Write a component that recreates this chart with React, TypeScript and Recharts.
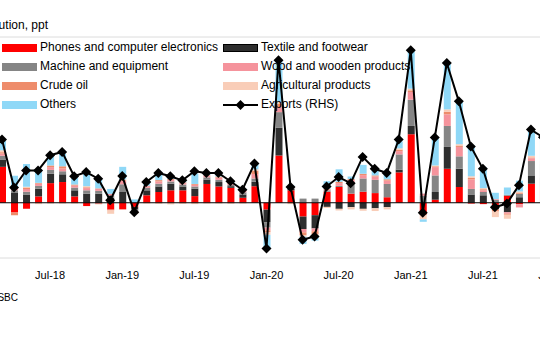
import {
  ComposedChart,
  Bar,
  Line,
  XAxis,
  YAxis,
  CartesianGrid,
  ReferenceLine,
} from "recharts";

// monthly contributions to export growth, ppt (Mar-18 .. Jan-22)
const months = [
  "Mar-18", "Apr-18", "May-18", "Jun-18", "Jul-18", "Aug-18", "Sep-18", "Oct-18", "Nov-18", "Dec-18",
  "Jan-19", "Feb-19", "Mar-19", "Apr-19", "May-19", "Jun-19", "Jul-19", "Aug-19", "Sep-19", "Oct-19", "Nov-19", "Dec-19",
  "Jan-20", "Feb-20", "Mar-20", "Apr-20", "May-20", "Jun-20", "Jul-20", "Aug-20", "Sep-20", "Oct-20", "Nov-20", "Dec-20",
  "Jan-21", "Feb-21", "Mar-21", "Apr-21", "May-21", "Jun-21", "Jul-21", "Aug-21", "Sep-21", "Oct-21", "Nov-21", "Dec-21",
  "Jan-22",
];

const phones = [
  13, -3.5, -2.2, 2.3, 7.1, 7.5, 2.3, -1.2, -0.3, -2.5,
  -2.4, -1.5, 2.7, 3.9, 4.5, 4.5, 2.4, 6.8, 5.9, 5.4, 1.8, 6,
  -2.5, 17.1, 4.5, -5, -4.5, 4, 5.7, 3.3, 4, 3.5, 2, 11,
  24.8, -4, 1.1, 12.3, 5.7, -0.3, -0.5, -0.8, 2.5, -0.5, 6.9, 6,
  null,
];
const textile = [
  2.5, 3.5, 3, 2.8, 3.4, 2.8, 2.2, 3.3, 3.3, 1.8,
  3.9, -1, 1.8, 2, 2.4, 1.4, 2.7, 1.6, 1.6, 0.6, 1.2, 1.6,
  -4.5, 10, 0.5, -4.5, -4.8, -1.5, -2.2, -1.6, -2.2, -2, -1.6, 1,
  3, 0, 2.8, 7.9, 6.6, 3, 2.7, -1.6, -3.4, 2, 3, 3,
  null,
];
const machine = [
  1.5, 1, 1, 1, 1.4, 1.1, 1, 1.2, 1, 0.8,
  2.8, -0.5, 0.9, 1, 0.8, 0.7, 0.8, 0.8, 0.8, 0.5, 0.8, 1.2,
  -2, 5.7, 0.3, 1.5, 1.5, 0.5, 0.4, 4, 4.8, 4.8, 4.8, 5.5,
  9.5, 2.5, 6, 7.6, 4.5, 2, 1.2, 1, 0.4, 1.2, 5.2, 5,
  null,
];
const wood = [
  0.8, 0.8, 1, 0.8, 1, 1, 0.7, 0.8, 0.7, 0.6,
  1.2, -0.3, 0.6, 0.8, 0.6, 0.5, 0.6, 0.6, 0.8, 0.5, 0.5, 1.6,
  -1, 1.8, 0.3, -1.2, -1, 0.3, 1, 1, 1.2, 1.2, 1.2, 1.2,
  2.8, 0.8, 3, 4.2, 3.4, 3.4, 0.6, 0.3, -0.6, -1.2, 1, 1,
  null,
];
const crudeOil = [
  0.5, -1, 0.3, 0.3, 0.6, 0.8, 0.4, 0.3, 0.2, -0.3,
  0.3, -0.3, 0.2, 0.5, 0.3, 0.3, 0.3, 0.2, 0.4, 0.2, 0.2, 1.2,
  -0.6, 1.2, 0.2, -1, -1, 0.2, 0.5, 0.3, 0.5, 0.4, 0.5, 0.5,
  0.6, -0.5, 0.3, 0.9, 0.5, 0.6, 0.4, -0.8, -0.3, 0.3, 0.3, 0.3,
  null,
];
const agri = [
  0.7, 0.5, 0.5, -0.5, -0.3, -0.3, -0.3, 0.4, -0.3, -1.2,
  0.3, -0.5, -0.3, -0.4, -0.6, -0.4, -0.5, -0.3, -0.3, -0.4, -0.3, 0.5,
  -1, 0.8, -0.5, -0.6, -0.5, -0.4, -0.6, -0.8, -0.7, -1, -0.8, 0.5,
  0.6, -1.5, 0.3, 0.9, 0.5, 0.6, 0.4, -2, -1.5, 0.6, 0.6, 0.5,
  null,
];
const others = [
  3.5, 4, 8.2, 5, 3.5, 4.5, 3.4, 5.5, 3.5, 1.8,
  4.5, 1.2, 0.8, 2.5, 0.9, 0.8, 3.8, 0.6, 0.8, 0.4, 0.6, 2,
  -5, 15, 0.4, -2.6, -1.9, 2.8, 4.5, 0.9, 3.2, 2.2, 2.6, 2.5,
  13.9, -0.9, 10.1, 16.8, 15.5, 11.1, 7.5, 2.3, 2.6, 3.9, 9.5, 7.9,
  null,
];
// exports, % yoy (RHS)
const exportsYoy = [
  22.9, 5.5, 11.7, 11.7, 17.2, 18.4, 9.6, 11.1, 8.7, 0.9,
  9.7, -3.4, 7.5, 10.8, 9.6, 8.1, 11.4, 10.8, 10.8, 7.8, 4.7, 14.2,
  -16.6, 51.6, 5.7, -13.4, -12.2, 5.9, 9.3, 7.1, 16.6, 12.3, 10.8, 22.9,
  55.2, -3.6, 23.6, 50.6, 36.7, 20.4, 12.3, -1.6, -0.3, 6.3, 26.5, 23.7,
  null,
];

const tickMonths = ["Jul-18", "Jan-19", "Jul-19", "Jan-20", "Jul-20", "Jan-21", "Jul-21", "Jan-22"];
const gridTicks = [-20, -10, 0, 10, 20, 30, 40, 50, 60];

const series = [
  { key: "phones", name: "Phones and computer electronics", color: "#ff0000", values: phones },
  { key: "textile", name: "Textile and footwear", color: "#2e2e2e", values: textile },
  { key: "machine", name: "Machine and equipment", color: "#858585", values: machine },
  { key: "wood", name: "Wood and wooden products", color: "#f5939c", values: wood },
  { key: "crude", name: "Crude oil", color: "#ee8c6b", values: crudeOil },
  { key: "agri", name: "Agricultural products", color: "#f9cdb8", values: agri },
  { key: "others", name: "Others", color: "#8fd8f7", values: others },
];

const data = months.map((m, i) => {
  const row: Record<string, any> = { month: m, exports: exportsYoy[i] };
  series.forEach((s) => {
    row[s.key] = s.values[i];
  });
  return row;
});

const Diamond = (props: any) => {
  const { cx, cy } = props;
  if (cx == null || cy == null || props.value == null) return null;
  const r = 5;
  return (
    <path
      d={`M${cx},${cy - r}L${cx + r},${cy}L${cx},${cy + r}L${cx - r},${cy}Z`}
      fill="#000"
    />
  );
};

const legendCol1 = ["phones", "machine", "crude", "others"];
const legendCol2 = ["textile", "wood", "agri"];

function Swatch({ color }: { color: string }) {
  return (
    <span
      style={{
        display: "inline-block",
        width: 35,
        height: 8,
        background: color,
        border: color === "#2e2e2e" ? "1px solid #000" : "none",
        boxSizing: "border-box",
        verticalAlign: "middle",
      }}
    />
  );
}

function LegendColumn({ keys, left, withExports }: { keys: string[]; left: number; withExports?: boolean }) {
  return (
    <div style={{ position: "absolute", left, top: 38 }}>
      {keys.map((k) => {
        const s = series.find((x) => x.key === k)!;
        return (
          <div key={k} style={{ height: 19, lineHeight: "19px", whiteSpace: "nowrap" }}>
            <Swatch color={s.color} />
            <span style={{ marginLeft: 3, verticalAlign: "middle" }}>{s.name}</span>
          </div>
        );
      })}
      {withExports && (
        <div style={{ height: 19, lineHeight: "19px", whiteSpace: "nowrap" }}>
          <svg width={35} height={10} style={{ verticalAlign: "middle" }}>
            <line x1={0} y1={5} x2={35} y2={5} stroke="#000" strokeWidth={2} />
            <path d="M17.5,0L22.5,5L17.5,10L12.5,5Z" fill="#000" />
          </svg>
          <span style={{ marginLeft: 3, verticalAlign: "middle" }}>Exports (RHS)</span>
        </div>
      )}
    </div>
  );
}

export default function App() {
  return (
    <div
      style={{
        position: "absolute",
        left: 0,
        top: 0,
        width: 540,
        height: 360,
        overflow: "hidden",
        background: "#fff",
        fontFamily: "'Liberation Sans', Arial, sans-serif",
        fontSize: 12,
        color: "#000",
      }}
    >
      <div style={{ position: "absolute", left: -4.3, top: 0 }}>
        <ComposedChart
          width={565}
          height={360}
          data={data}
          stackOffset="sign"
          barSize={7}
          margin={{ top: 37, right: 0, left: 0, bottom: 72 }}
        >
          <CartesianGrid vertical={false} stroke="#dcdcdc" />
          <XAxis
            dataKey="month"
            ticks={tickMonths}
            interval={0}
            axisLine={false}
            tickLine={false}
            tick={{ fontSize: 11, fill: "#000" }}
            tickMargin={7}
            height={30}
          />
          <YAxis yAxisId="left" hide domain={[-20, 60]} ticks={gridTicks} />
          <YAxis yAxisId="right" orientation="right" hide domain={[-20, 60]} ticks={gridTicks} />
          {series.map((s) => (
            <Bar
              key={s.key}
              yAxisId="left"
              dataKey={s.key}
              name={s.name}
              stackId="contrib"
              fill={s.color}
              isAnimationActive={false}
            />
          ))}
          <ReferenceLine yAxisId="left" y={0} stroke="#000" strokeWidth={1} />
          <Line
            yAxisId="right"
            dataKey="exports"
            name="Exports (RHS)"
            stroke="#000"
            strokeWidth={2}
            dot={<Diamond />}
            activeDot={false}
            isAnimationActive={false}
          />
        </ComposedChart>
      </div>
      <div style={{ position: "absolute", right: 492, top: 18, whiteSpace: "nowrap", lineHeight: "14px" }}>
        Contribution, ppt
      </div>
      <LegendColumn keys={legendCol1} left={2} />
      <LegendColumn keys={legendCol2} left={223} withExports />
      <div style={{ position: "absolute", right: 522, top: 292, fontSize: 10, whiteSpace: "nowrap" }}>
        Source: HSBC
      </div>
    </div>
  );
}
